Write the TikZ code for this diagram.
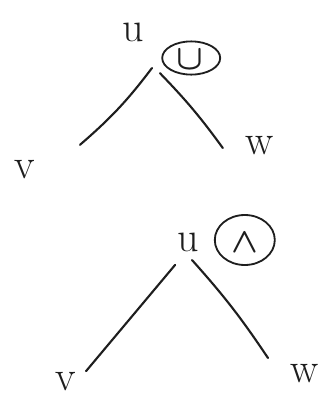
\documentclass[tikz,border=0pt]{standalone}
\usepackage{tikz}
\usetikzlibrary{shapes.geometric}
\definecolor{ink}{HTML}{1E1E1E}

\tikzset{
  lbl/.style={ink, font=\fontsize{30}{30}\selectfont, inner sep=0pt},
  opsym/.style={ink, font=\fontsize{34}{34}\selectfont\boldmath, inner sep=0pt},
  opcirc/.style={draw=ink, line width=1.3pt, ellipse, inner sep=0pt},
  edge/.style={ink, line width=1.5pt, line cap=round}
}

\begin{document}
\begin{tikzpicture}
    \useasboundingbox (0,0) rectangle (8.35,-10.125);
    % oberer Baum: Vereinigung
    \node[lbl] (u1) at (3.33,-0.8) {u};
    \node[opcirc, minimum width=1.45cm, minimum height=0.83cm] (op1) at (4.78,-1.45) {};
    \node[opsym] (cup1) at (4.75,-1.5) {$\cup$};
    \node[lbl] (v1) at (0.62,-4.25) {v};
    \node[lbl] (w1) at (6.5,-3.65) {w};
    \coordinate (l1) at (3.8,-1.7);
    \coordinate (l1e) at (2.0,-3.62);
    \coordinate (r1) at (4.0,-1.83);
    \coordinate (r1e) at (5.57,-3.7);
    \draw[edge] (l1) to[bend left=6] (l1e);
    \draw[edge] (r1) to[bend left=4] (r1e);
    % unterer Baum: Konjunktion
    \node[lbl] (u2) at (4.7,-6.05) {u};
    \node[opcirc, minimum width=1.5cm, minimum height=1.25cm] (op2) at (6.12,-6.0) {};
    \node[opsym, font=\fontsize{44}{44}\selectfont\boldmath] (wedge2) at (6.12,-6.08) {$\wedge$};
    \node[lbl] (v2) at (1.65,-9.55) {v};
    \node[lbl] (w2) at (7.62,-9.35) {w};
    \coordinate (l2) at (4.38,-6.62);
    \coordinate (l2e) at (2.15,-9.28);
    \coordinate (r2) at (4.8,-6.5);
    \coordinate (r2e) at (6.7,-8.95);
    \draw[edge] (l2) -- (l2e);
    \draw[edge] (r2) to[bend left=4] (r2e);
\end{tikzpicture}
\end{document}
